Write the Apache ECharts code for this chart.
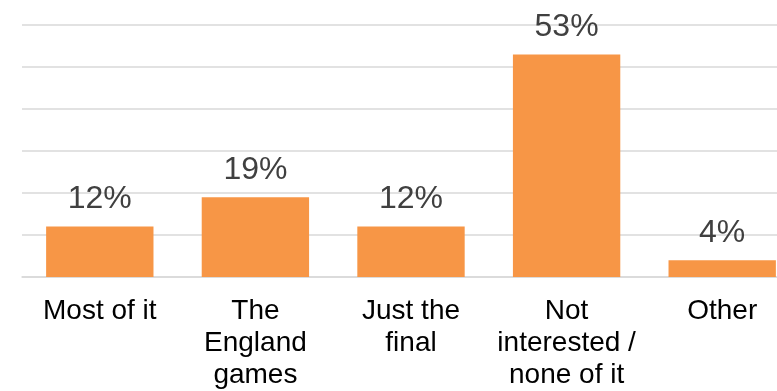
<!DOCTYPE html>
<html>
<head>
<meta charset="utf-8">
<script src="https://cdn.jsdelivr.net/npm/echarts@6/dist/echarts.min.js"></script>
<style>
html,body{margin:0;padding:0;background:#fff;overflow:hidden;width:777px;height:391px;}
#chart{width:810px;height:391px;}
</style>
</head>
<body>
<div id="chart"></div>
<script>
const categories = ["Most of it", "The\nEngland\ngames", "Just the\nfinal", "Not\ninterested /\nnone of it", "Other"];
const values = [12, 19, 12, 53, 4];
const yTicks = [0, 10, 20, 30, 40, 50, 60];

const chart = echarts.init(document.getElementById('chart'), null, {renderer: 'canvas'});
chart.setOption({
  animation: false,
  grid: {left: 22, width: 778, top: 25, bottom: 112, containLabel: false},
  xAxis: {
    type: 'category',
    data: categories,
    axisLine: {show: true, lineStyle: {color: '#d9d9d9', width: 1.5}},
    axisTick: {show: false},
    axisLabel: {
      interval: 0,
      margin: 18,
      color: '#000000',
      fontFamily: 'Liberation Sans, Arial, sans-serif',
      fontSize: 28,
      lineHeight: 32
    }
  },
  yAxis: {
    type: 'value',
    min: yTicks[0],
    max: yTicks[yTicks.length - 1],
    interval: 10,
    axisLine: {show: false},
    axisTick: {show: false},
    axisLabel: {show: false},
    splitLine: {lineStyle: {color: '#d9d9d9', width: 1.5}}
  },
  series: [{
    type: 'bar',
    data: values,
    barWidth: '69%',
    itemStyle: {color: '#F79646'},
    label: {
      show: true,
      position: 'top',
      distance: 11,
      formatter: '{c}%',
      color: '#404040',
      fontFamily: 'Liberation Sans, Arial, sans-serif',
      fontSize: 32
    }
  }]
});
</script>
</body>
</html>
